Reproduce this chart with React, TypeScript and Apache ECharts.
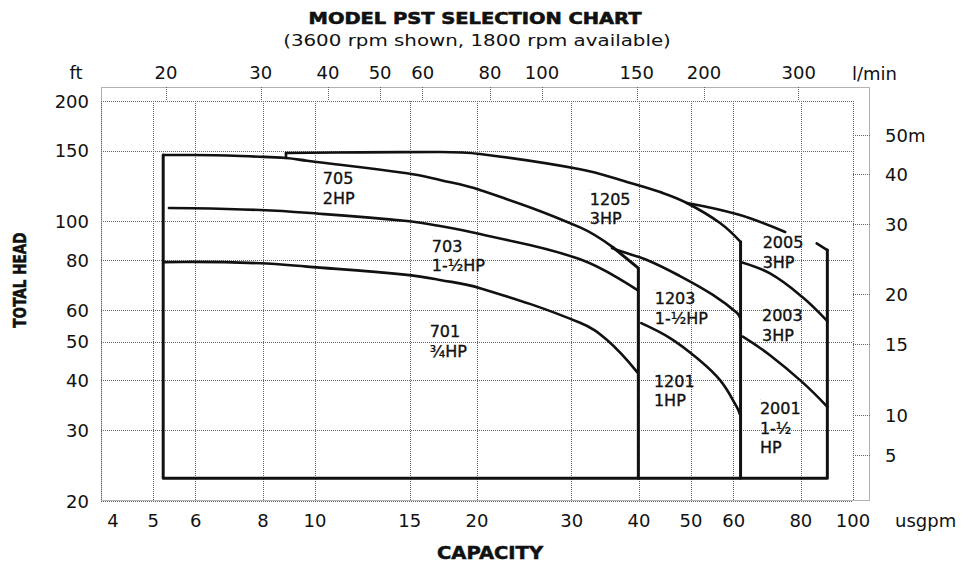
import React, { useEffect, useRef } from 'react';
import * as echarts from 'echarts';

// ---- axis ticks ----
const xTicks = [4, 5, 6, 8, 10, 15, 20, 30, 40, 50, 60, 80, 100]; // usgpm
const yTicks = [20, 30, 40, 50, 60, 80, 100, 150, 200]; // ft
const lpmTicks = [20, 30, 40, 50, 60, 80, 100, 150, 200, 300]; // l/min
const LPM_PER_GPM = 3.785;
const meterTicks = ['5', '10', '15', '20', '30', '40', '50m'];
const meterTickFt = [26, 32.8, 49.2, 65.6, 98.4, 131.2, 164];

// ---- pump curves: [usgpm, ft] ----
const curve705 = [[5.22, 146.6], [5.91, 146.6], [7.9, 145.1], [8.83, 144.0], [9.66, 141.8], [14.82, 131.9], [17.07, 126.9], [20.26, 119.8], [31.09, 96.6], [35.8, 86.1]];
const bend700 = [[35.8, 86.1], [39.9, 76.4], [39.9, 22.8]];
const curve703 = [[5.35, 108.0], [5.91, 107.9], [7.9, 106.8], [9.66, 105.1], [14.82, 100.2], [17.07, 97.4], [20.26, 93.0], [31.09, 80.4], [39.7, 67.4]];
const curve701 = [[5.22, 79.1], [5.91, 79.2], [7.9, 78.6], [9.66, 77.1], [14.82, 73.5], [17.07, 71.4], [20.26, 68.1], [31.09, 55.8], [34.9, 50.5], [39.7, 42.0]];
const tick1205 = [[8.83, 144.0], [8.83, 148.3]];
const curve1205 = [[8.83, 148.3], [12.12, 148.8], [17.07, 149.1], [20.26, 147.4], [31.09, 135.0], [38.0, 125.5], [43.8, 118.4], [49.1, 111.2], [56.6, 99.1], [61.8, 88.9]];
const divider1200 = [[61.8, 88.9], [61.8, 22.8]];
const curve1203 = [[35.65, 85.8], [36.9, 84.3], [41.4, 80.1], [47.7, 73.0], [54.9, 65.5], [60.9, 59.0], [61.8, 57.0]];
const curve1201 = [[40.4, 55.7], [45.7, 51.1], [51.2, 45.6], [56.6, 40.1], [60.8, 34.4], [61.6, 33.0]];
const curve2005 = [[49.1, 111.2], [61.2, 104.0], [74.8, 94.1]];
const tail2005 = [[85.6, 88.1], [89.6, 84.8]];
const frameOuter = [[5.22, 146.6], [5.22, 22.8], [89.6, 22.8], [89.6, 84.8]];
const curve2003 = [[62.0, 79.1], [70.1, 74.1], [80.4, 64.8], [89.6, 56.3]];
const curve2001 = [[62.4, 51.5], [70.1, 46.3], [80.4, 39.7], [89.6, 34.4]];

// ---- model labels ----
const labelTexts = ['705\n2HP', '703\n1-½HP', '701\n¾HP', '1205\n3HP', '1203\n1-½HP', '1201\n1HP', '2005\n3HP', '2003\n3HP', '2001\n1-½\nHP'];
const labelGpm = [10.35, 16.5, 16.35, 32.45, 42.85, 42.7, 68.0, 67.8, 67.2];
const labelFt = [135.2, 91.5, 55.9, 120.1, 67.6, 42.1, 93.3, 61.3, 35.9];

const FONT = "'DejaVu Sans', sans-serif";
const COND = "'DejaVu Sans Condensed', 'DejaVu Sans', sans-serif";
const INK = '#111';
const GRID = { color: '#666', width: 1, type: 'dotted' as const };

function lineSeries(name: string, data: number[][], smooth: boolean, width: number) {
  return {
    type: 'line',
    name,
    data,
    xAxisIndex: 0,
    yAxisIndex: 0,
    smooth: smooth ? 0.4 : false,
    showSymbol: false,
    symbol: 'none',
    lineStyle: { color: INK, width, cap: 'round', join: 'round' },
    z: 3,
  };
}

export default function App() {
  const ref = useRef<HTMLDivElement>(null);
  useEffect(() => {
    if (!ref.current) return;
    const chart = echarts.init(ref.current, null, { renderer: 'svg' });
    const labelStyle = { fontFamily: FONT, fontSize: 18, color: INK };
    const option: any = {
      animation: false,
      backgroundColor: '#fff',
      grid: [
        { left: 101, top: 101, width: 752, height: 400 },
        { left: 101, top: 87, width: 752, height: 14 },
        { left: 853, top: 101, width: 17, height: 400 },
      ],
      xAxis: [
        {
          gridIndex: 0, type: 'log', min: 4, max: 100, position: 'bottom',
          axisLine: { show: false },
          axisTick: { show: false, customValues: xTicks },
          splitLine: { show: true, lineStyle: GRID },
          axisLabel: {
            ...labelStyle, margin: 10, customValues: xTicks,
            formatter: (v: number) => (Math.round(v) === 4 ? '{p|4}' : String(Math.round(v))),
            rich: { p: { fontFamily: FONT, fontSize: 18, color: INK, padding: [0, 0, 0, 24] } },
          },
        },
        {
          gridIndex: 1, type: 'log', min: 4, max: 100, position: 'top',
          axisLine: { show: false },
          axisTick: { show: false, customValues: lpmTicks.map((l) => l / LPM_PER_GPM) },
          splitLine: { show: true, lineStyle: GRID },
          axisLabel: {
            ...labelStyle, margin: 6, customValues: lpmTicks.map((l) => l / LPM_PER_GPM),
            formatter: (v: number) => String(Math.round(v * LPM_PER_GPM)),
          },
        },
        { gridIndex: 2, type: 'value', min: 0, max: 1, show: false },
      ],
      yAxis: [
        {
          gridIndex: 0, type: 'log', min: 20, max: 200,
          axisLine: { show: false },
          axisTick: { show: false, customValues: yTicks },
          splitLine: { show: true, lineStyle: GRID },
          axisLabel: { ...labelStyle, margin: 12, customValues: yTicks, formatter: (v: number) => String(Math.round(v)) },
          name: 'ft', nameLocation: 'end', nameGap: 20,
          nameTextStyle: { ...labelStyle, padding: [0, 50, 0, 0] },
        },
        { gridIndex: 1, type: 'value', min: 0, max: 1, show: false },
        {
          gridIndex: 2, type: 'log', min: 20, max: 200, position: 'right',
          axisLine: { show: false },
          axisTick: { show: false, customValues: meterTickFt },
          splitLine: { show: true, lineStyle: GRID },
          axisLabel: {
            ...labelStyle, margin: 15, customValues: meterTickFt,
            formatter: (v: number) => {
              let best = 0;
              meterTickFt.forEach((f, i) => { if (Math.abs(f - v) < Math.abs(meterTickFt[best] - v)) best = i; });
              return meterTicks[best];
            },
          },
        },
      ],
      graphic: [
        {
          type: 'rect', silent: true, z: 1,
          shape: { x: 101.5, y: 87.5, width: 768, height: 413 },
          style: { fill: 'none', stroke: '#666', lineWidth: 1, lineDash: [1, 1] },
        },
        {
          type: 'text', x: 475, y: 18.5, scaleX: 1.216,
          style: { text: 'MODEL PST SELECTION CHART', fontFamily: FONT, fontWeight: 'bold', fontSize: 16, fill: INK, stroke: INK, lineWidth: 0.6, align: 'center', verticalAlign: 'middle' },
        },
        {
          type: 'text', x: 477, y: 40, scaleX: 1.24,
          style: { text: '(3600 rpm shown, 1800 rpm available)', fontFamily: FONT, fontSize: 16, fill: INK, align: 'center', verticalAlign: 'middle' },
        },
        {
          type: 'text', x: 20, y: 280, rotation: Math.PI / 2, scaleX: 0.84,
          style: { text: 'TOTAL HEAD', fontFamily: COND, fontWeight: 'bold', fontSize: 18, fill: INK, stroke: INK, lineWidth: 0.5, align: 'center', verticalAlign: 'middle' },
        },
        {
          type: 'text', x: 490, y: 561, scaleX: 1.15,
          style: { text: 'CAPACITY', fontFamily: FONT, fontWeight: 'bold', fontSize: 17, fill: INK, stroke: INK, lineWidth: 0.5, align: 'center', verticalAlign: 'bottom' },
        },
        {
          type: 'text', x: 852, y: 73,
          style: { text: 'l/min', fontFamily: FONT, fontSize: 18, fill: INK, align: 'left', verticalAlign: 'middle' },
        },
        {
          type: 'text', x: 895, y: 520,
          style: { text: 'usgpm', fontFamily: FONT, fontSize: 18, fill: INK, align: 'left', verticalAlign: 'middle' },
        },
      ],
      series: [
        lineSeries('frame', frameOuter, false, 3),
        lineSeries('705', curve705, true, 2.6),
        lineSeries('700 end', bend700, false, 3),
        lineSeries('703', curve703, true, 2.6),
        lineSeries('701', curve701, true, 2.6),
        lineSeries('1205 start', tick1205, false, 2.6),
        lineSeries('1205', curve1205, true, 2.6),
        lineSeries('1200 end', divider1200, false, 3),
        lineSeries('1203', curve1203, true, 2.6),
        lineSeries('1201', curve1201, true, 2.6),
        lineSeries('2005', curve2005, true, 2.6),
        lineSeries('2005 end', tail2005, false, 2.6),
        lineSeries('2003', curve2003, true, 2.6),
        lineSeries('2001', curve2001, true, 2.6),
        {
          type: 'scatter', name: 'labels', xAxisIndex: 0, yAxisIndex: 0,
          symbolSize: 0.5, itemStyle: { color: INK }, z: 4,
          data: labelTexts.map((t, i) => ({ name: t, value: [labelGpm[i], labelFt[i]] })),
          label: {
            show: true, position: [0, 0], align: 'left', verticalAlign: 'top',
            formatter: '{b}', fontFamily: FONT, fontSize: 16, lineHeight: 19.5, color: INK,
            opacity: 1, textBorderColor: INK, textBorderWidth: 0.35,
          },
        },
      ],
    };
    chart.setOption(option);
    return () => chart.dispose();
  }, []);
  return (
    <div
      ref={ref}
      style={{ position: 'absolute', left: 0, top: 0, width: 972, height: 563, background: '#fff' }}
    />
  );
}
